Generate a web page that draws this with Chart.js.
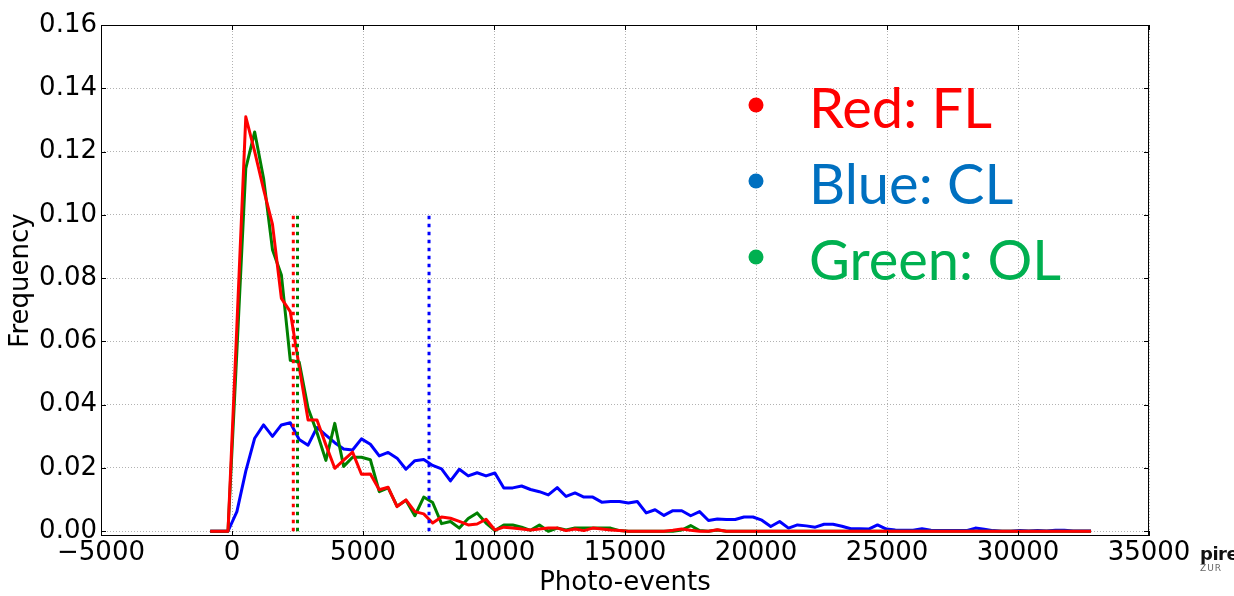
<!DOCTYPE html>
<html>
<head>
<meta charset="utf-8">
<title>Photo-events histogram</title>
<script src="https://cdn.jsdelivr.net/npm/chart.js@4.4.1/dist/chart.umd.min.js"></script>
<style>
  html, body { margin: 0; padding: 0; background: #fff; }
  #wrap { position: relative; width: 1234px; height: 596px; overflow: hidden; }
  #logo { position: absolute; left: 1200px; top: 545px; font-family: "DejaVu Sans", sans-serif; color: #111; line-height: 1; }
  #logo .big { font-size: 18px; font-weight: bold; letter-spacing: -0.5px; }
  #logo .small { display: block; font-size: 9px; color: #666; letter-spacing: 1px; margin-top: 1px; }
</style>
</head>
<body>
<div id="wrap">
  <canvas id="hist" width="1234" height="596"></canvas>
  <div id="logo"><span class="big">pire</span><span class="small">ZUR</span></div>
</div>
<script>
// histogram bins (left edge of the first bin and bin width, in photo-events)
const binStart = -832;
const binWidth = 339.6;

// normalised counts per bin
const flFreq = [
  0, 0, 0, 0.065, 0.131, 0.120, 0.108, 0.097, 0.0736, 0.0694,
  0.052, 0.0352, 0.0352, 0.0273, 0.0199, 0.0225, 0.0250, 0.0180, 0.0181, 0.0131,
  0.0139, 0.0078, 0.0099, 0.0062, 0.0055, 0.0026, 0.0045, 0.0041, 0.0031, 0.0020,
  0.0023, 0.0038, 0.0004, 0.0013, 0.0010, 0.0007, 0.0004, 0.0007, 0.0010, 0.0010,
  0.0002, 0.0007, 0.0002, 0.0010, 0.0007, 0.0004, 0.0002, 0, 0, 0,
  0, 0, 0.0003, 0.0007, 0.0003, 0, 0, 0.0005, 0, 0,
  0, 0, 0, 0, 0, 0, 0, 0, 0, 0,
  0, 0, 0, 0, 0, 0, 0, 0, 0, 0,
  0, 0, 0, 0, 0, 0, 0, 0, 0, 0,
  0, 0, 0, 0, 0, 0, 0, 0, 0, 0
];
const clFreq = [
  0, 0, 0, 0.0062, 0.019, 0.0294, 0.0336, 0.0300, 0.0336, 0.0343,
  0.0290, 0.0272, 0.0328, 0.0304, 0.0280, 0.0260, 0.0257, 0.0292, 0.0275, 0.0238,
  0.0249, 0.0231, 0.0196, 0.0223, 0.0227, 0.0208, 0.0197, 0.0159, 0.0196, 0.0175,
  0.0185, 0.0175, 0.0184, 0.0137, 0.0137, 0.0143, 0.0132, 0.0125, 0.0115, 0.0138,
  0.0110, 0.0121, 0.0108, 0.0108, 0.0092, 0.0094, 0.0094, 0.0089, 0.0094, 0.0058,
  0.0068, 0.0050, 0.0065, 0.0065, 0.0049, 0.0062, 0.0034, 0.0039, 0.0037, 0.0037,
  0.0045, 0.0045, 0.0035, 0.0015, 0.0031, 0.0010, 0.0020, 0.0017, 0.0013, 0.0022,
  0.0022, 0.0016, 0.0008, 0.0008, 0.0007, 0.0020, 0.0007, 0.0004, 0.0003, 0.0003,
  0.0008, 0.0003, 0.0002, 0.0002, 0.0002, 0.0002, 0.0010, 0.0006, 0.0002, 0,
  0, 0.0002, 0.0001, 0.0002, 0.0001, 0.0003, 0.0003, 0.0001, 0.0001, 0.0001
];
const olFreq = [
  0, 0, 0, 0.057, 0.1147, 0.1262, 0.1115, 0.089, 0.081, 0.054,
  0.0535, 0.0389, 0.0312, 0.0224, 0.0341, 0.0205, 0.0234, 0.0234, 0.0226, 0.0125,
  0.0137, 0.0079, 0.0098, 0.0049, 0.0108, 0.0091, 0.0024, 0.0031, 0.0010, 0.0040,
  0.0058, 0.0026, 0.0002, 0.0020, 0.0020, 0.0013, 0.0003, 0.0020, 0, 0.0010,
  0.0004, 0.0010, 0.0010, 0.0010, 0.0010, 0.0010, 0.0002, 0, 0, 0,
  0, 0, 0, 0.0004, 0.0018, 0.0002, 0, 0.0004, 0, 0,
  0, 0, 0, 0, 0, 0, 0, 0, 0, 0,
  0, 0, 0, 0, 0, 0, 0, 0, 0, 0,
  0, 0, 0, 0, 0, 0, 0, 0, 0, 0,
  0, 0, 0, 0, 0, 0, 0, 0, 0, 0
];

// mean photo-events of each sample (FL, CL, OL), shown as dotted markers
const meanEvents = [2340, 7520, 2500];
const meanLineTop = 0.1;

const xTicks = [-5000, 0, 5000, 10000, 15000, 20000, 25000, 30000, 35000];
const yTicks = [0, 0.02, 0.04, 0.06, 0.08, 0.10, 0.12, 0.14, 0.16];

const keyLabels = ['Red: FL', 'Blue: CL', 'Green: OL'];
const keyColors = ['#ff0000', '#0070c0', '#00b050'];

const toPoints = arr => arr.map((v, i) => ({ x: binStart + i * binWidth, y: v }));
const meanLine = (x, color) => ({
  data: [{ x: x, y: 0 }, { x: x, y: meanLineTop }],
  borderColor: color,
  borderWidth: 3,
  borderDash: [3.5, 4.5],
  pointRadius: 0,
  order: 0
});
const histLine = (arr, color) => ({
  data: toPoints(arr),
  borderColor: color,
  borderWidth: 3,
  borderJoinStyle: 'round',
  pointRadius: 0,
  tension: 0,
  order: 1
});

// box around the plot, inward ticks on all four sides, and the colour key
const frameAndKey = {
  id: 'frameAndKey',
  afterDatasetsDraw(chart) {
    const { ctx, chartArea: a, scales } = chart;
    ctx.save();
    ctx.strokeStyle = '#000';
    ctx.lineWidth = 1;
    ctx.beginPath();
    xTicks.forEach(v => {
      const px = Math.round(scales.x.getPixelForValue(v)) + 0.5;
      ctx.moveTo(px, a.bottom);
      ctx.lineTo(px, a.bottom - 5);
      ctx.moveTo(px, a.top);
      ctx.lineTo(px, a.top + 5);
    });
    yTicks.forEach(v => {
      const py = Math.round(scales.y.getPixelForValue(v)) + 0.5;
      ctx.moveTo(a.left, py);
      ctx.lineTo(a.left + 5, py);
      ctx.moveTo(a.right, py);
      ctx.lineTo(a.right - 5, py);
    });
    ctx.stroke();
    ctx.strokeRect(Math.round(a.left) + 0.5, Math.round(a.top) + 0.5,
      Math.round(a.right - a.left) - 1, Math.round(a.bottom - a.top) - 1);

    ctx.font = '56px Lato';
    ctx.textBaseline = 'alphabetic';
    keyLabels.forEach((label, i) => {
      const rowY = 128 + i * 76;
      ctx.fillStyle = keyColors[i];
      ctx.beginPath();
      ctx.arc(756, rowY - 23, 7.5, 0, Math.PI * 2);
      ctx.fill();
      ctx.fillText(label, 809, rowY);
    });
    ctx.restore();
  }
};

const tickFont = { family: 'DejaVu Sans', size: 26 };
const titleFont = { family: 'DejaVu Sans', size: 26, lineHeight: 1 };

new Chart(document.getElementById('hist'), {
  type: 'line',
  data: {
    datasets: [
      histLine(flFreq, '#ff0000'),
      histLine(olFreq, '#008000'),
      histLine(clFreq, '#0000ff'),
      meanLine(meanEvents[0], '#ff0000'),
      meanLine(meanEvents[2], '#008000'),
      meanLine(meanEvents[1], '#0000ff')
    ]
  },
  options: {
    responsive: false,
    animation: false,
    events: [],
    layout: { padding: { left: 0, right: 85, top: 25, bottom: 0 } },
    plugins: {
      legend: { display: false },
      tooltip: { enabled: false }
    },
    scales: {
      x: {
        type: 'linear',
        min: -5000,
        max: 35000,
        afterFit(scale) { scale.height = 60; },
        afterBuildTicks(scale) { scale.ticks = xTicks.map(v => ({ value: v })); },
        ticks: {
          font: tickFont,
          color: '#000',
          padding: 2,
          maxRotation: 0,
          autoSkip: false,
          callback: v => (v < 0 ? '\u2212' + Math.abs(v) : String(v))
        },
        grid: { color: 'rgba(0,0,0,0.3)', lineWidth: 1, drawTicks: false },
        border: { display: false, dash: [1, 2] },
        title: { display: true, text: 'Photo-events', font: titleFont, color: '#000', padding: { top: 0, bottom: 0 } }
      },
      y: {
        min: -0.0015,
        max: 0.16,
        afterFit(scale) { scale.width = 101; },
        afterBuildTicks(scale) { scale.ticks = yTicks.map(v => ({ value: v })); },
        ticks: {
          font: tickFont,
          color: '#000',
          padding: 4,
          callback: v => v.toFixed(2)
        },
        grid: { color: 'rgba(0,0,0,0.3)', lineWidth: 1, drawTicks: false },
        border: { display: false, dash: [1, 2] },
        title: { display: true, text: 'Frequency', font: titleFont, color: '#000', padding: { top: 8, bottom: 0 } }
      }
    }
  },
  plugins: [frameAndKey]
});
</script>
</body>
</html>
